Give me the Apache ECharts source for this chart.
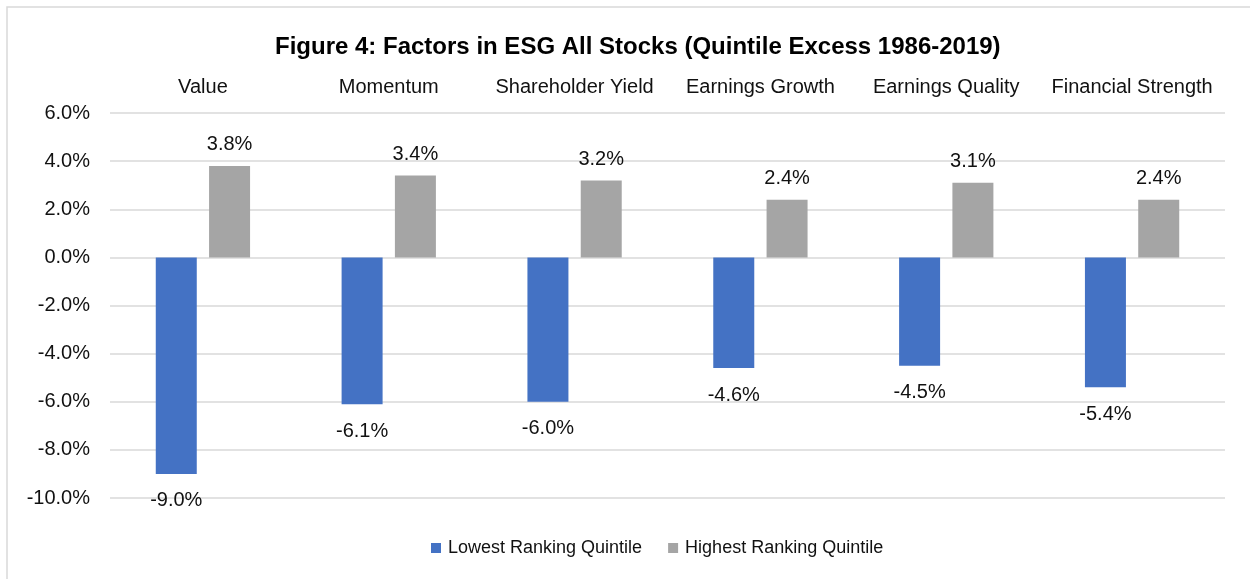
<!DOCTYPE html>
<html>
<head>
<meta charset="utf-8">
<script src="https://cdn.jsdelivr.net/npm/echarts@6/dist/echarts.min.js"></script>
<style>
  html, body { margin: 0; padding: 0; background: #fff; }
  #chart { width: 1250px; height: 579px; }
</style>
</head>
<body>
<div id="chart"></div>
<script>
// 数据
var categories = ['Value', 'Momentum', 'Shareholder Yield', 'Earnings Growth', 'Earnings Quality', 'Financial Strength'];
var lowestQuintile = [-9.0, -6.1, -6.0, -4.6, -4.5, -5.4];
var highestQuintile = [3.8, 3.4, 3.2, 2.4, 3.1, 2.4];
var seriesNames = ['Lowest Ranking Quintile', 'Highest Ranking Quintile'];
var yTicks = [-10, -8, -6, -4, -2, 0, 2, 4, 6];

var chart = echarts.init(document.getElementById('chart'));
var font = 'Liberation Sans, Arial, sans-serif';

// 负值标签放在柱子下方
function withLabels(values) {
  return values.map(function (v) {
    return {
      value: v,
      label: { position: v < 0 ? 'bottom' : 'top', distance: v < 0 ? 17 : 11 }
    };
  });
}

var option = {
  backgroundColor: '#fff',
  textStyle: { fontFamily: font },
  graphic: [{
    type: 'rect',
    shape: { x: 7, y: 7, width: 1300, height: 650 },
    style: { fill: 'none', stroke: '#d9d9d9', lineWidth: 1.5 },
    silent: true
  }],
  title: {
    text: 'Figure 4: Factors in ESG All Stocks (Quintile Excess 1986-2019)',
    left: 270,
    top: 30,
    textStyle: { fontFamily: font, fontSize: 24, fontWeight: 'bold', color: '#000' }
  },
  legend: {
    bottom: 17,
    left: 426,
    itemWidth: 10,
    itemHeight: 10,
    itemGap: 26,
    icon: 'rect',
    textStyle: { fontFamily: font, fontSize: 18, color: '#111', padding: [0, 0, 0, 2] },
    data: seriesNames
  },
  grid: { left: 110, right: 25, top: 113, bottom: 81, containLabel: false },
  xAxis: {
    type: 'category',
    position: 'top',
    data: categories,
    axisLine: { show: false },
    axisTick: { show: false },
    axisLabel: { fontFamily: font, fontSize: 20, color: '#111', margin: 16, interval: 0 }
  },
  yAxis: {
    type: 'value',
    min: yTicks[0],
    max: yTicks[yTicks.length - 1],
    interval: 2,
    axisLine: { show: false },
    axisTick: { show: false },
    axisLabel: {
      fontFamily: font, fontSize: 20, color: '#111', margin: 20,
      formatter: function (v) { return v.toFixed(1) + '%'; }
    },
    splitLine: { lineStyle: { color: '#d9d9d9', width: 1.5 } }
  },
  series: [
    {
      name: seriesNames[0],
      type: 'bar',
      barWidth: 41,
      barGap: '30%',
      itemStyle: { color: '#4472c4' },
      label: {
        show: true, fontFamily: font, fontSize: 20, color: '#111',
        formatter: function (p) { return p.value.toFixed(1) + '%'; }
      },
      data: withLabels(lowestQuintile)
    },
    {
      name: seriesNames[1],
      type: 'bar',
      barWidth: 41,
      barGap: '30%',
      itemStyle: { color: '#a5a5a5' },
      label: {
        show: true, fontFamily: font, fontSize: 20, color: '#111',
        formatter: function (p) { return p.value.toFixed(1) + '%'; }
      },
      data: withLabels(highestQuintile)
    }
  ]
};

chart.setOption(option);

window.addEventListener('resize', function () {
  chart.resize();
});
</script>
</body>
</html>
